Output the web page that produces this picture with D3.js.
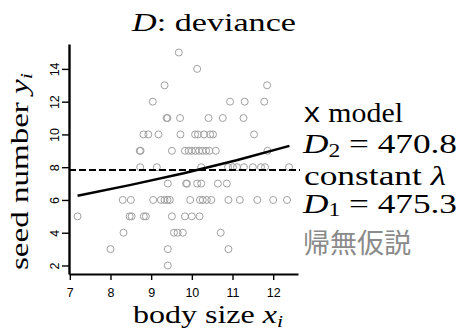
<!DOCTYPE html>
<html><head><meta charset="utf-8">
<script src="https://cdn.jsdelivr.net/npm/d3@7"></script>
<style>
html,body{margin:0;padding:0;background:#fff;}
svg{display:block;}
</style></head>
<body>
<svg id="chart" width="460" height="331"></svg>
<script>
// ---- data ----
const seedX = [
  9.68,
  10.13,
  9.33, 11.85,
  9.04, 10.94, 11.30, 11.78,
  9.38, 9.40, 9.71, 10.41, 10.76, 11.27,
  8.81, 8.93, 9.18, 9.72, 10.08, 10.15, 10.30, 10.45, 10.52, 11.53,
  8.72, 8.74, 9.51, 9.83, 9.92, 10.00, 10.09, 10.18, 10.26, 10.35, 10.43, 10.59, 11.86,
  8.73, 9.14, 10.23, 10.89, 11.01, 11.11, 11.28, 11.50, 11.70, 11.80, 12.39,
  9.41, 9.86, 9.88, 10.13, 10.23, 10.64, 10.86,
  8.30, 8.50, 9.05, 9.24, 9.33, 9.40, 9.46, 9.96, 10.20, 10.27, 10.37, 10.48, 10.90, 11.18, 11.61, 12.00, 12.34,
  7.19, 8.47, 8.52, 8.82, 8.87, 9.51, 9.83, 10.00, 10.19,
  8.32, 9.56, 9.65, 9.78, 10.71,
  8.00, 9.41, 10.90,
  9.41
];
const seedY = [
  15,
  14,
  13, 13,
  12, 12, 12, 12,
  11, 11, 11, 11, 11, 11,
  10, 10, 10, 10, 10, 10, 10, 10, 10, 10,
  9, 9, 9, 9, 9, 9, 9, 9, 9, 9, 9, 9, 9,
  8, 8, 8, 8, 8, 8, 8, 8, 8, 8, 8,
  7, 7, 7, 7, 7, 7, 7,
  6, 6, 6, 6, 6, 6, 6, 6, 6, 6, 6, 6, 6, 6, 6, 6, 6,
  5, 5, 5, 5, 5, 5, 5, 5, 5,
  4, 4, 4, 4, 4,
  3, 3, 3,
  2
];
// fitted x model curve
const fitX = [7.19, 8.5, 9.8, 11.1, 12.4];
const fitY = [6.26, 6.92, 7.63, 8.42, 9.30];
// constant model (null hypothesis)
const lambdaConst = 7.83;
const xTicks = [7, 8, 9, 10, 11, 12];
const yTicks = [2, 4, 6, 8, 10, 12, 14];
const titleText = "deviance";
const xLabelText = "body size ";
const yLabelText = "seed number ";
const legendModel = "model";
const devModel = "470.8";
const devConst = "475.3";
const nullHypText = "帰無仮説";

// ---- drawing ----
const svg = d3.select("#chart");
const x = d3.scaleLinear().domain([6.98, 12.61]).range([69, 298]);
const y = d3.scaleLinear().domain([1.48, 15.52]).range([274, 44]);
const serif = "Liberation Serif";
const mono = "Liberation Mono";
const sans = "Liberation Sans";

// points
const pts = d3.range(seedX.length).map(i => ({x: seedX[i], y: seedY[i]}));
svg.append("g").selectAll("circle").data(pts).join("circle")
  .attr("cx", d => x(d.x)).attr("cy", d => y(d.y)).attr("r", 3.5)
  .attr("fill", "none").attr("stroke", "#a0a0a0").attr("stroke-width", 1);

// constant lambda dashed line
svg.append("line")
  .attr("x1", x(x.domain()[0])).attr("x2", x(x.domain()[1]) + 2)
  .attr("y1", y(lambdaConst)).attr("y2", y(lambdaConst))
  .attr("stroke", "#000").attr("stroke-width", 2).attr("stroke-dasharray", "7,3");

// fitted line
const fit = fitX.map((v, i) => [v, fitY[i]]);
svg.append("path").datum(fit)
  .attr("d", d3.line().x(d => x(d[0])).y(d => y(d[1])))
  .attr("fill", "none").attr("stroke", "#000").attr("stroke-width", 2.5);

// axes
const gx = svg.append("g").attr("transform", "translate(0,274)")
  .call(d3.axisBottom(x).tickValues(xTicks).tickFormat(d3.format("d")).tickSize(6).tickSizeOuter(0));
gx.select(".domain").attr("stroke-width", 2.2);
gx.selectAll(".tick line").attr("stroke-width", 1.4);
gx.selectAll(".tick text").attr("y", 23).attr("dy", null)
  .style("font-family", sans).style("font-size", "12.5px").attr("fill", "#000");

const gy = svg.append("g").attr("transform", "translate(69,0)")
  .call(d3.axisLeft(y).tickValues(yTicks).tickFormat(d3.format("d")).tickSize(7).tickSizeOuter(0));
gy.select(".domain").attr("stroke-width", 2.4);
gy.selectAll(".tick line").attr("stroke-width", 1.4);
gy.selectAll(".tick text").attr("x", null).attr("dy", null)
  .attr("transform", "translate(-10,0) rotate(-90)").attr("text-anchor", "middle")
  .style("font-family", sans).style("font-size", "12.5px").attr("fill", "#000");

function serifText(sel, size) {
  return sel.style("font-family", serif).style("font-size", size + "px").attr("fill", "#000");
}

// title
const t = serifText(svg.append("text").attr("x", 132).attr("y", 31), 25)
  .attr("textLength", 164).attr("lengthAdjust", "spacingAndGlyphs");
t.append("tspan").style("font-style", "italic").text("D");
t.append("tspan").text(": " + titleText);

// x label
const xl = serifText(svg.append("text").attr("x", 133).attr("y", 323), 25)
  .attr("textLength", 150).attr("lengthAdjust", "spacingAndGlyphs");
xl.append("tspan").text(xLabelText);
xl.append("tspan").style("font-style", "italic").text("x");
xl.append("tspan").style("font-style", "italic").style("font-size", "17px").attr("dy", 4).text("i");

// y label
const yl = serifText(svg.append("text").attr("transform", "translate(28,270) rotate(-90)"), 25)
  .attr("textLength", 197).attr("lengthAdjust", "spacingAndGlyphs");
yl.append("tspan").text(yLabelText);
yl.append("tspan").style("font-style", "italic").text("y");
yl.append("tspan").style("font-style", "italic").style("font-size", "17px").attr("dy", 4).text("i");

// right-side annotations
const a1 = serifText(svg.append("text").attr("x", 303).attr("y", 122), 27)
  .attr("textLength", 100).attr("lengthAdjust", "spacingAndGlyphs");
a1.append("tspan").style("font-family", mono).text("x");
a1.append("tspan").text(" " + legendModel);

const a2 = serifText(svg.append("text").attr("x", 303).attr("y", 153), 27)
  .attr("textLength", 154).attr("lengthAdjust", "spacingAndGlyphs");
a2.append("tspan").style("font-style", "italic").text("D");
a2.append("tspan").style("font-size", "18px").attr("dy", 4).text("2");
a2.append("tspan").attr("dy", -4).text(" = " + devModel);

const a3 = serifText(svg.append("text").attr("x", 304).attr("y", 185), 27)
  .attr("textLength", 142).attr("lengthAdjust", "spacingAndGlyphs");
a3.append("tspan").text("constant ");
a3.append("tspan").style("font-style", "italic").text("λ");

const a4 = serifText(svg.append("text").attr("x", 303).attr("y", 213), 27)
  .attr("textLength", 154).attr("lengthAdjust", "spacingAndGlyphs");
a4.append("tspan").style("font-style", "italic").text("D");
a4.append("tspan").style("font-size", "18px").attr("dy", 3).text("1");
a4.append("tspan").attr("dy", -3).text(" = " + devConst);

svg.append("text").attr("x", 303).attr("y", 253)
  .style("font-family", "Noto Sans CJK JP").style("font-size", "27px")
  .attr("fill", "#8a8a8a").text(nullHypText);
</script>
</body></html>
